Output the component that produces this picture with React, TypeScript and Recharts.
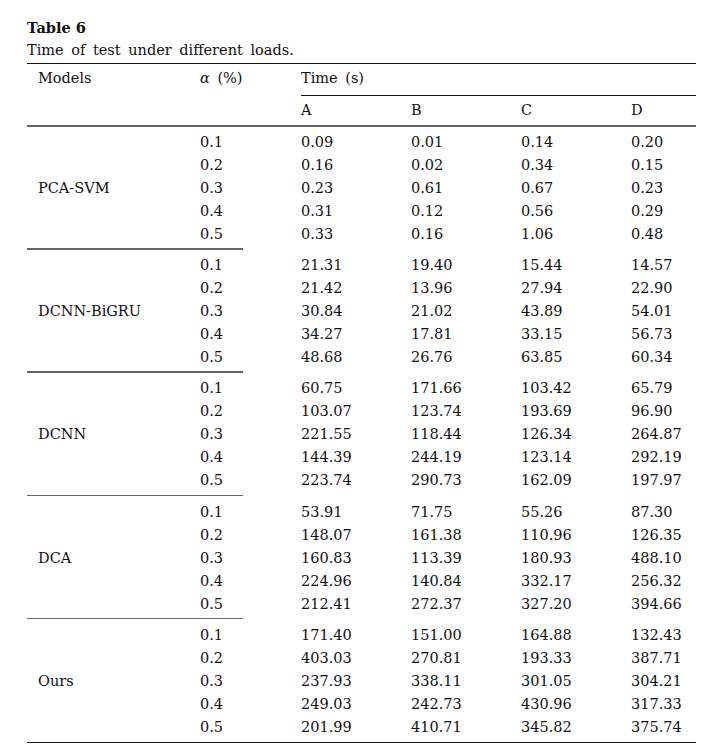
import { ScatterChart, Scatter, XAxis, YAxis } from "recharts";

/* ── Data ─────────────────────────────────────────────────── */

const columns = ["A", "B", "C", "D"];
const alphas = ["0.1", "0.2", "0.3", "0.4", "0.5"];
const models = ["PCA-SVM", "DCNN-BiGRU", "DCNN", "DCA", "Ours"];

// one row per alpha, one value per load column A..D
const pcaSvm = [
  [0.09, 0.01, 0.14, 0.2],
  [0.16, 0.02, 0.34, 0.15],
  [0.23, 0.61, 0.67, 0.23],
  [0.31, 0.12, 0.56, 0.29],
  [0.33, 0.16, 1.06, 0.48],
];
const dcnnBigru = [
  [21.31, 19.4, 15.44, 14.57],
  [21.42, 13.96, 27.94, 22.9],
  [30.84, 21.02, 43.89, 54.01],
  [34.27, 17.81, 33.15, 56.73],
  [48.68, 26.76, 63.85, 60.34],
];
const dcnn = [
  [60.75, 171.66, 103.42, 65.79],
  [103.07, 123.74, 193.69, 96.9],
  [221.55, 118.44, 126.34, 264.87],
  [144.39, 244.19, 123.14, 292.19],
  [223.74, 290.73, 162.09, 197.97],
];
const dca = [
  [53.91, 71.75, 55.26, 87.3],
  [148.07, 161.38, 110.96, 126.35],
  [160.83, 113.39, 180.93, 488.1],
  [224.96, 140.84, 332.17, 256.32],
  [212.41, 272.37, 327.2, 394.66],
];
const ours = [
  [171.4, 151.0, 164.88, 132.43],
  [403.03, 270.81, 193.33, 387.71],
  [237.93, 338.11, 301.05, 304.21],
  [249.03, 242.73, 430.96, 317.33],
  [201.99, 410.71, 345.82, 375.74],
];

const groups = [pcaSvm, dcnnBigru, dcnn, dca, ours];

/* ── Layout ───────────────────────────────────────────────── */

const FONT = "'DejaVu Serif', serif";
const SIZE = 14.5;
const W = 711;
const LEFT = 27;
const RIGHT = 696;
const BODY_TOP = 126;
const GROUP_H = 123.2;
const COL0 = 301;
const COL_STEP = 110;
const ALPHA_X = 200;
const MODEL_X = 38;

/* ── Pieces ───────────────────────────────────────────────── */

function CellText(props: any) {
  const { cx, cy, payload } = props;
  return (
    <text x={cx} y={cy} dy="0.35em" fontSize={SIZE} fontFamily={FONT} fill="#111">
      {payload.value.toFixed(2)}
    </text>
  );
}

function AlphaTick(props: any) {
  const { y, payload } = props;
  return (
    <text x={ALPHA_X} y={y} dy="0.35em" fontSize={SIZE} fontFamily={FONT} fill="#111">
      {payload.value}
    </text>
  );
}

function ModelLabel(props: any) {
  const { viewBox, value } = props;
  return (
    <text
      x={MODEL_X}
      y={viewBox.y + viewBox.height / 2}
      dy="0.35em"
      fontSize={SIZE}
      fontFamily={FONT}
      fill="#111"
    >
      {value}
    </text>
  );
}

function Rule({ y, x1 = LEFT, x2 = RIGHT, h = 1, color = "#111" }: any) {
  return (
    <div
      style={{
        position: "absolute",
        left: x1,
        top: y,
        width: x2 - x1,
        height: h,
        background: color,
      }}
    />
  );
}

function Label({ x, base, children, bold = false, size = SIZE, gap = 3 }: any) {
  return (
    <div
      style={{
        position: "absolute",
        left: x,
        top: base - 0.846 * size,
        fontSize: size,
        lineHeight: 1,
        fontWeight: bold ? "bold" : "normal",
        wordSpacing: gap,
        whiteSpace: "nowrap",
        color: "#111",
      }}
    >
      {children}
    </div>
  );
}

function GroupChart({ rows, name }: { rows: number[][]; name: string }) {
  const points = rows.flatMap((r, i) =>
    r.map((v, j) => ({ col: j, alpha: alphas[i], value: v }))
  );
  return (
    <ScatterChart
      width={W}
      height={123}
      margin={{ top: 4, right: W - (COL0 + 3 * COL_STEP), bottom: 4, left: 26 }}
    >
      <XAxis type="number" dataKey="col" domain={[0, 3]} hide />
      <YAxis
        type="category"
        dataKey="alpha"
        width={COL0 - 26}
        allowDuplicatedCategory={false}
        reversed
        axisLine={false}
        tickLine={false}
        tick={<AlphaTick />}
        label={{ value: name, content: <ModelLabel /> }}
      />
      <Scatter data={points} isAnimationActive={false} shape={<CellText />} />
    </ScatterChart>
  );
}

/* ── App ──────────────────────────────────────────────────── */

export default function App() {
  return (
    <div
      style={{
        position: "absolute",
        left: 0,
        top: 0,
        width: W,
        height: 752,
        overflow: "hidden",
        background: "#fff",
        fontFamily: FONT,
      }}
    >
      <Label x={LEFT} base={33} bold gap={0}>
        Table 6
      </Label>
      <Label x={LEFT} base={55}>
        Time of test under different loads.
      </Label>
      <Rule y={62.5} h={1.3} />

      <Label x={MODEL_X} base={83}>
        Models
      </Label>
      <Label x={ALPHA_X} base={83}>
        <i>α</i> (%)
      </Label>
      <Label x={COL0} base={83}>
        Time (s)
      </Label>
      <Rule y={94.5} x1={COL0} h={1.2} />
      {columns.map((c, j) => (
        <Label key={c} x={COL0 + j * COL_STEP} base={115}>
          {c}
        </Label>
      ))}
      <Rule y={125.3} h={1.6} color="#666" />

      {groups.map((rows, g) => (
        <div
          key={models[g]}
          style={{ position: "absolute", left: 0, top: BODY_TOP + g * GROUP_H }}
        >
          <GroupChart rows={rows} name={models[g]} />
        </div>
      ))}

      {[1, 2, 3, 4].map((g) => (
        <Rule key={g} y={BODY_TOP + g * GROUP_H - 1} x2={243} h={1.5} color="#666" />
      ))}
      <Rule y={741.5} h={1.2} />
    </div>
  );
}
